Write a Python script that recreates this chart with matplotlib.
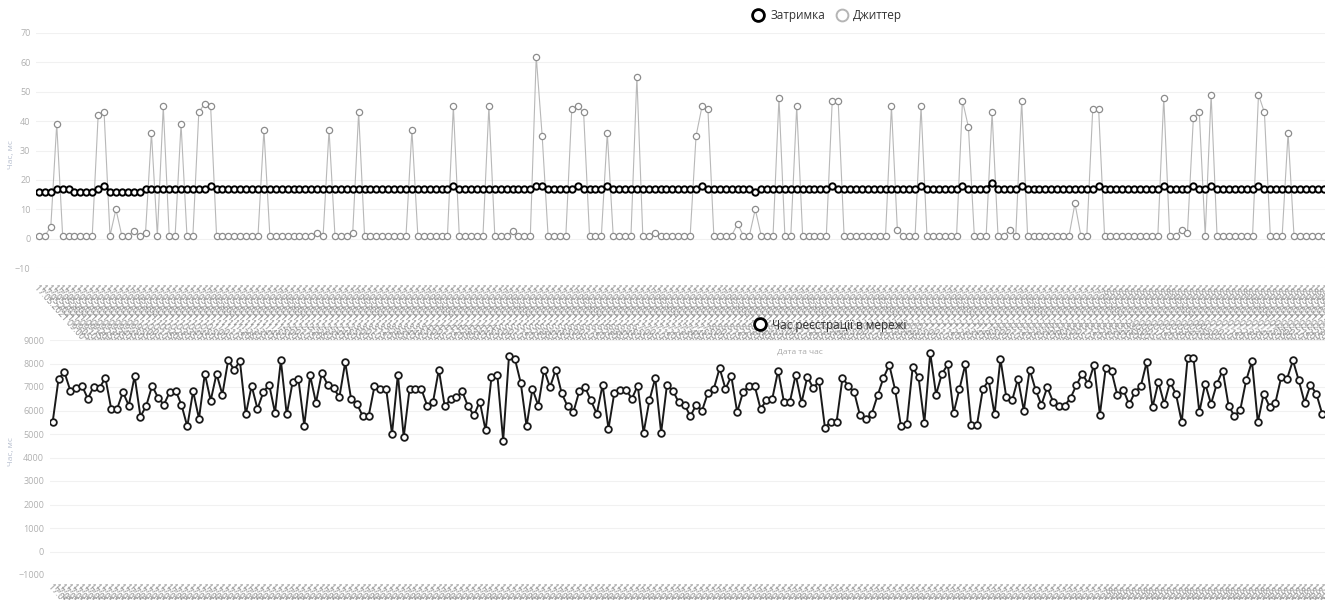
import numpy as np
import pandas as pd
import matplotlib
matplotlib.use('Agg')
import matplotlib.pyplot as plt
from matplotlib.lines import Line2D

plt.rcParams['font.family'] = ['Open Sans', 'DejaVu Sans']

# Затримка, мс
delay = [16, 16, 16, 17, 17, 17, 16, 16, 16, 16,
         17, 18, 16, 16, 16, 16, 16, 16, 17, 17,
         17, 17, 17, 17, 17, 17, 17, 17, 17, 18,
         17, 17, 17, 17, 17, 17, 17, 17, 17, 17,
         17, 17, 17, 17, 17, 17, 17, 17, 17, 17,
         17, 17, 17, 17, 17, 17, 17, 17, 17, 17,
         17, 17, 17, 17, 17, 17, 17, 17, 17, 17,
         18, 17, 17, 17, 17, 17, 17, 17, 17, 17,
         17, 17, 17, 17, 18, 18, 17, 17, 17, 17,
         17, 18, 17, 17, 17, 17, 18, 17, 17, 17,
         17, 17, 17, 17, 17, 17, 17, 17, 17, 17,
         17, 17, 18, 17, 17, 17, 17, 17, 17, 17,
         17, 16, 17, 17, 17, 17, 17, 17, 17, 17,
         17, 17, 17, 17, 18, 17, 17, 17, 17, 17,
         17, 17, 17, 17, 17, 17, 17, 17, 17, 18,
         17, 17, 17, 17, 17, 17, 18, 17, 17, 17,
         17, 19, 17, 17, 17, 17, 18, 17, 17, 17,
         17, 17, 17, 17, 17, 17, 17, 17, 17, 18,
         17, 17, 17, 17, 17, 17, 17, 17, 17, 17,
         18, 17, 17, 17, 17, 18, 17, 17, 18, 17,
         17, 17, 17, 17, 17, 17, 18, 17, 17, 17,
         17, 17, 17, 17, 17, 17, 17, 17]

# Джиттер, мс
jitter = [1, 1, 4, 39, 1, 1, 1, 1, 1, 1,
          42, 43, 1, 10, 1, 1, 2.5, 1, 2, 36,
          1, 45, 1, 1, 39, 1, 1, 43, 46, 45,
          1, 1, 1, 1, 1, 1, 1, 1, 37, 1,
          1, 1, 1, 1, 1, 1, 1, 2, 1, 37,
          1, 1, 1, 2, 43, 1, 1, 1, 1, 1,
          1, 1, 1, 37, 1, 1, 1, 1, 1, 1,
          45, 1, 1, 1, 1, 1, 45, 1, 1, 1,
          2.5, 1, 1, 1, 62, 35, 1, 1, 1, 1,
          44, 45, 43, 1, 1, 1, 36, 1, 1, 1,
          1, 55, 1, 1, 2, 1, 1, 1, 1, 1,
          1, 35, 45, 44, 1, 1, 1, 1, 5, 1,
          1, 10, 1, 1, 1, 48, 1, 1, 45, 1,
          1, 1, 1, 1, 47, 47, 1, 1, 1, 1,
          1, 1, 1, 1, 45, 3, 1, 1, 1, 45,
          1, 1, 1, 1, 1, 1, 47, 38, 1, 1,
          1, 43, 1, 1, 3, 1, 47, 1, 1, 1,
          1, 1, 1, 1, 1, 12, 1, 1, 44, 44,
          1, 1, 1, 1, 1, 1, 1, 1, 1, 1,
          48, 1, 1, 3, 2, 41, 43, 1, 49, 1,
          1, 1, 1, 1, 1, 1, 49, 43, 1, 1,
          1, 36, 1, 1, 1, 1, 1, 1]

# Час реєстрації в мережі, мс
reg_time = [5530, 7350, 7630, 6850, 6950, 7060, 6500, 7020, 6960, 7390,
            6070, 6070, 6780, 6210, 7460, 5740, 6210, 7060, 6540, 6250,
            6780, 6850, 6250, 5320, 6820, 5650, 7560, 6420, 7560, 6680,
            8150, 7730, 8100, 5830, 7050, 6070, 6780, 7100, 5900, 8130,
            5830, 7200, 7330, 5360, 7490, 6330, 7600, 7090, 6950, 6570,
            8050, 6500, 6280, 5760, 5760, 7030, 6920, 6920, 5010, 7530,
            4870, 6920, 6920, 6920, 6210, 6350, 7740, 6180, 6470, 6570,
            6810, 6180, 5790, 6380, 5150, 7420, 7520, 4720, 8340, 8200,
            7180, 5330, 6920, 6210, 7740, 6990, 7740, 6740, 6180, 5930,
            6810, 6990, 6430, 5860, 7090, 5220, 6750, 6890, 6890, 6500,
            7060, 5050, 6430, 7380, 5050, 7090, 6850, 6350, 6240, 5760,
            6240, 6000, 6750, 6920, 7800, 6920, 7460, 5930, 6780, 7040,
            7040, 6070, 6430, 6500, 7700, 6350, 6350, 7520, 6330, 7440,
            6950, 7250, 5270, 5530, 5530, 7380, 7060, 6780, 5790, 5620,
            5860, 6640, 7380, 7940, 6880, 5330, 5430, 7840, 7420, 5480,
            8450, 6680, 7560, 7960, 5900, 6920, 7960, 5400, 5400, 6920,
            7280, 5830, 8200, 6570, 6430, 7350, 6000, 7740, 6890, 6240,
            6990, 6380, 6210, 6210, 6540, 7090, 7560, 7140, 7940, 5820,
            7800, 7660, 6640, 6880, 6260, 6780, 7040, 8060, 6140, 7210,
            6280, 7210, 6710, 5500, 8240, 8240, 5930, 7140, 6280, 7140,
            7700, 6210, 5760, 6030, 7280, 8090, 5500, 6710, 6170, 6330,
            7420, 7350, 8130, 7280, 6330, 7090, 6710, 5860]

# дата та час вимірювань (підписи осі X)
times = pd.date_range('2021-05-17 09:00:00', periods=len(reg_time), freq='5min')
time_labels = [t.strftime('%d.%m.%Y %H:%M:%S') for t in times]

x = np.arange(len(reg_time))
W, H = 1325, 600

fig = plt.figure(figsize=(W / 100, H / 100), dpi=100)
ax1 = fig.add_axes([36 / W, 1 - 268 / H, len(x) * 5.92 / W, 235 / H])
ax2 = fig.add_axes([49.8 / W, 1 - 575 / H, len(x) * 5.85 / W, 235 / H])

tick_col = '#b0b0b0'

def style_axis(ax, ylim, yticks, pad):
    ax.set_xlim(-0.5, len(x) - 0.5)
    ax.set_ylim(*ylim)
    ax.set_yticks(yticks)
    ax.set_xticks(x)
    ax.set_xticklabels(time_labels, rotation=-48, ha='left', va='top',
                       rotation_mode='anchor', fontsize=6.3, color='#8c8c8c')
    ax.tick_params(axis='x', length=0, pad=pad)
    ax.tick_params(axis='y', length=0, pad=4, labelsize=6.5, labelcolor=tick_col)
    ax.grid(axis='y', color='#f1f1f1', lw=0.8)
    ax.set_axisbelow(True)
    for s in ax.spines.values():
        s.set_visible(False)

# верхній графік: затримка та джиттер
ax1.plot(x, jitter, color='#b8b8b8', lw=0.8, marker='o', ms=4.5,
         mfc='white', mec='#8c8c8c', mew=0.9, zorder=2)
ax1.plot(x, delay, color='black', lw=1.8, marker='o', ms=4.6,
         mfc='white', mec='black', mew=1.4, zorder=3)
style_axis(ax1, (-10, 70), range(-10, 71, 10), 11)

# нижній графік: час реєстрації
ax2.plot(x, reg_time, color='#1a1a1a', lw=1.4, marker='o', ms=4.8,
         mfc='white', mec='#1a1a1a', mew=1.3, zorder=3)
style_axis(ax2, (-1000, 9000), range(-1000, 9001, 1000), 5)

# легенди
h1 = [Line2D([], [], ls='none', marker='o', ms=8.5, mfc='white', mec='black', mew=2),
      Line2D([], [], ls='none', marker='o', ms=8.5, mfc='white', mec='#b5b5b5', mew=1.4)]
fig.legend(h1, ['Затримка', 'Джиттер'], loc='center', bbox_to_anchor=(828 / W, 1 - 16 / H),
           ncol=2, frameon=False, fontsize=8.5, handlelength=0.8, handletextpad=0.6,
           columnspacing=1.0, labelcolor='#333333')
h2 = [Line2D([], [], ls='none', marker='o', ms=8.5, mfc='white', mec='black', mew=2)]
fig.legend(h2, ['Час реєстрації в мережі'], loc='center', bbox_to_anchor=(831 / W, 1 - 325 / H),
           frameon=False, fontsize=8.5, handlelength=0.8, handletextpad=0.6, labelcolor='#333333')

fig.text(800 / W, 1 - 352 / H, 'Дата та час', fontsize=6, color='#a8a8a8', ha='center', va='center')
fig.text(12 / W, 1 - 155 / H, 'Час, мс', fontsize=6, color='#b8c0d0', rotation=90, ha='center', va='center')
fig.text(12 / W, 1 - 452 / H, 'Час, мс', fontsize=6, color='#b8c0d0', rotation=90, ha='center', va='center')

fig.savefig('out.png', dpi=100, facecolor='white')
